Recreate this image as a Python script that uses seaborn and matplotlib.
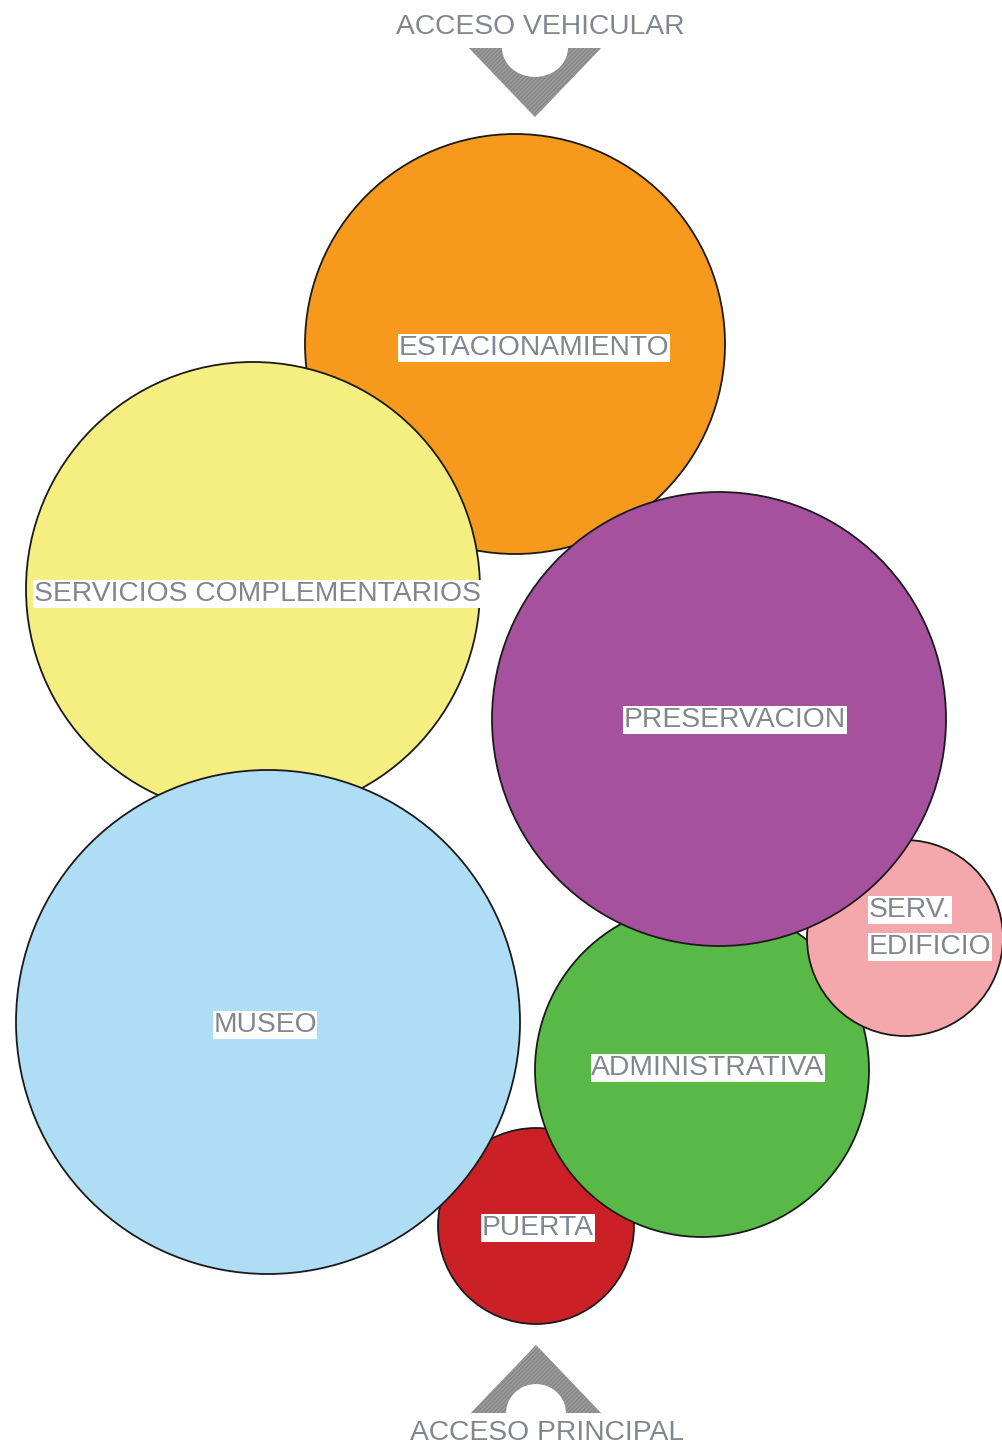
import matplotlib.pyplot as plt
import numpy as np
import pandas as pd
import seaborn as sns
from matplotlib.patches import Polygon

# bubble diagram values (pixel-space coordinates of the sheet)
names = ["ESTACIONAMIENTO", "SERVICIOS COMPLEMENTARIOS", "PUERTA", "MUSEO",
         "ADMINISTRATIVA", "SERV. EDIFICIO", "PRESERVACION"]
center_x = [515, 253, 536, 268, 702, 905, 719]
center_y = [344, 589, 1226, 1022, 1070, 938, 719]
radius = [210, 227, 98, 252, 167, 98, 227]
colors = ["#F7991D", "#F5EE80", "#CC2027", "#AEDDF5", "#58B947", "#F5A8AC", "#A6519E"]

label_x = [534, 257, 538, 265, 708, 869, 735]
label_y = [348, 594, 1228, 1025, 1068, 928, 720]

access_labels = ["ACCESO VEHICULAR", "ACCESO PRINCIPAL"]
access_x = [540, 547]
access_y = [27, 1433]

W, H, DPI = 1003, 1454, 100

sns.set_theme(style="white")
plt.rcParams["font.family"] = ["Liberation Sans", "DejaVu Sans"]

fig = plt.figure(figsize=(W / DPI, H / DPI), dpi=DPI)
ax = fig.add_axes([0, 0, 1, 1])

df = pd.DataFrame({"name": names, "x": center_x, "y": center_y, "r": radius})
# marker area in pt^2 so that the drawn diameter equals 2r pixels
df["area"] = (2 * df["r"] * 72 / DPI) ** 2

sns.scatterplot(
    data=df, x="x", y="y", hue="name", palette=dict(zip(names, colors)),
    size="area", sizes=(df["area"].min(), df["area"].max()),
    size_norm=(df["area"].min(), df["area"].max()),
    edgecolor="#1a1a1a", linewidth=1.3, legend=False, ax=ax, zorder=2,
)

label_style = dict(fontsize=20.3, color="#82878f", zorder=5,
                   bbox=dict(facecolor="white", edgecolor="none", pad=0.5))
for name, lx, ly in zip(names, label_x, label_y):
    if name == "SERV. EDIFICIO":
        ax.text(lx, ly - 18, "SERV.", ha="left", va="center", **label_style)
        ax.text(lx, ly + 19, "EDIFICIO", ha="left", va="center", **label_style)
    else:
        ax.text(lx, ly, name, ha="center", va="center", **label_style)

for txt, tx, ty in zip(access_labels, access_x, access_y):
    ax.text(tx, ty, txt, ha="center", va="center", fontsize=20.3, color="#82878f")


def access_arrow(cx, base_y, tip_y, half_w, notch_rx, notch_ry):
    # triangle with a half-ellipse notch cut from its base
    direction = 1 if tip_y > base_y else -1
    theta = np.linspace(0, np.pi, 40)
    arc = np.column_stack([cx + notch_rx * np.cos(theta),
                           base_y + direction * notch_ry * np.sin(theta)])
    pts = [(cx - half_w, base_y), (cx, tip_y), (cx + half_w, base_y)]
    pts += [tuple(p) for p in arc]
    return Polygon(pts, closed=True, facecolor="#878787", edgecolor="#9c9c9c",
                   hatch="////////", linewidth=0, zorder=3)


ax.add_patch(access_arrow(535, 48, 117, 66, 33, 29))
ax.add_patch(access_arrow(536, 1413, 1345, 65, 30, 29))

ax.set_xlim(0, W)
ax.set_ylim(H, 0)
ax.set_aspect("equal")
ax.axis("off")

fig.savefig("out.png", dpi=DPI)
